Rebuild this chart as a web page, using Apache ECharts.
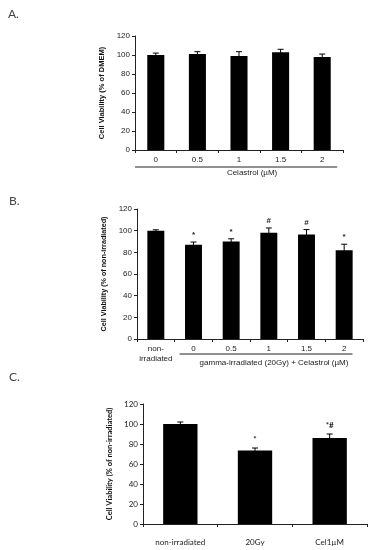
<!DOCTYPE html>
<html><head><meta charset="utf-8">
<script src="https://cdn.jsdelivr.net/npm/echarts@6/dist/echarts.min.js"></script>
<style>html,body{margin:0;padding:0;background:#fff}#c{width:380px;height:550px}</style>
</head><body><div id="c"></div>
<script>
// Panel A
const catsA = ['0', '0.5', '1', '1.5', '2'];
const valsA = [100, 101, 99, 103, 98];
const errA = [2, 2.5, 4.5, 3, 3];
const annA = ['', '', '', '', ''];
// Panel B
const catsB = ['non-\nirradiated', '0', '0.5', '1', '1.5', '2'];
const valsB = [100, 87, 90, 98, 96.5, 82];
const errB = [0.8, 2.5, 2.5, 4.5, 4.5, 5.5];
const annB = ['', '*', '*', '#', '#', '*'];
// Panel C
const catsC = ['non-irradiated', '20Gy', 'Cel1\u00b5M'];
const valsC = [100, 73.5, 86];
const errC = [2, 2.5, 4];
const annC = ['', '*', '*#'];
// Axis
const yTicks = [0, 20, 40, 60, 80, 100, 120];

const ARIAL = '"Liberation Sans", Arial, sans-serif';
const CAL = 'Lato, "Liberation Sans", sans-serif';

const chart = echarts.init(document.getElementById('c'), null, {renderer: 'canvas'});

function yAxis(gi, name, gap, font, nsize) {
  return {
    gridIndex: gi, type: 'value', min: yTicks[0], max: yTicks[yTicks.length - 1], interval: 20,
    name: name, nameLocation: 'middle', nameRotate: 90, nameGap: gap,
    nameTextStyle: {fontFamily: font, fontWeight: 'bold', fontSize: nsize, color: '#111'},
    axisLine: {show: true, lineStyle: {color: '#222', width: 1}},
    axisTick: {show: true, length: 3, lineStyle: {color: '#222'}},
    axisLabel: {fontFamily: font, fontSize: 8, color: '#222', margin: 5},
    splitLine: {show: false}
  };
}
function xAxis(gi, cats, font, margin) {
  return {
    gridIndex: gi, type: 'category', data: cats,
    axisLine: {show: true, lineStyle: {color: '#222', width: 1}},
    axisTick: {show: true, length: 3, alignWithLabel: false, lineStyle: {color: '#222'}},
    axisLabel: {fontFamily: font, fontSize: 8, color: '#222', margin: margin, lineHeight: 10, interval: 0},
    splitLine: {show: false}
  };
}
function errSeries(gi, vals, errs, anns, font, gap) {
  return {
    type: 'custom', xAxisIndex: gi, yAxisIndex: gi, z: 5,
    data: vals.map((v, i) => [i, v, errs[i]]),
    encode: {x: 0, y: 1},
    renderItem: function (params, api) {
      const i = params.dataIndex;
      const x = api.value(0), v = api.value(1), e = api.value(2);
      const top = api.coord([x, v + e]);
      const bot = api.coord([x, v - e]);
      const cap = 3;
      const children = [
        {type: 'line', shape: {x1: top[0], y1: top[1], x2: bot[0], y2: bot[1]}, style: {stroke: '#000', lineWidth: 1}},
        {type: 'line', shape: {x1: top[0] - cap, y1: top[1], x2: top[0] + cap, y2: top[1]}, style: {stroke: '#000', lineWidth: 1}}
      ];
      if (anns[i]) {
        children.push({type: 'text', style: {text: anns[i], x: top[0], y: top[1] - gap, align: 'center', verticalAlign: 'bottom', fontSize: 8, fontWeight: 'bold', fontFamily: font, fill: '#222'}});
      }
      return {type: 'group', children: children};
    }
  };
}
function barSeries(gi, vals, width) {
  return {type: 'bar', xAxisIndex: gi, yAxisIndex: gi, data: vals, barWidth: width,
    itemStyle: {color: '#000'}, silent: true};
}

chart.setOption({
  animation: false,
  grid: [
    {left: 135, top: 36, width: 208, height: 114},
    {left: 137, top: 209, width: 226, height: 130},
    {left: 143, top: 404, width: 224, height: 120}
  ],
  xAxis: [xAxis(0, catsA, ARIAL, 5), xAxis(1, catsB, ARIAL, 5), xAxis(2, catsC, CAL, 13)],
  yAxis: [yAxis(0, 'Cell Viability (% of DMEM)', 24, ARIAL, 7.5), yAxis(1, 'Cell Viability (% of non-irradiated)', 17, ARIAL, 7.2), yAxis(2, 'Cell Viability (% of non-irradiated)', 24, CAL, 7.5)],
  series: [
    barSeries(0, valsA, '41%'), errSeries(0, valsA, errA, annA, ARIAL, 3),
    barSeries(1, valsB, '45%'), errSeries(1, valsB, errB, annB, ARIAL, 3),
    barSeries(2, valsC, '46%'), errSeries(2, valsC, errC, annC, CAL, 5)
  ]
});

// Decorations: panel letters, group brackets and labels
const ax0a = chart.convertToPixel({xAxisIndex: 0}, catsA[0]);
const ax4a = chart.convertToPixel({xAxisIndex: 0}, catsA[4]);
const bandA = ax4a - chart.convertToPixel({xAxisIndex: 0}, catsA[3]);
const yA = chart.convertToPixel({yAxisIndex: 0}, 0);
const b1 = chart.convertToPixel({xAxisIndex: 1}, catsB[1]);
const b5 = chart.convertToPixel({xAxisIndex: 1}, catsB[5]);
const bandB = b5 - chart.convertToPixel({xAxisIndex: 1}, catsB[4]);
const yB = chart.convertToPixel({yAxisIndex: 1}, 0);
const xA0 = ax0a - bandA / 2;
const xA1 = ax4a + bandA * 0.36;
const xB0 = b1 - bandB * 0.37;
const xB1 = b5 + bandB * 0.22;

chart.setOption({
  graphic: [
    {type: 'text', left: 8, top: 8, style: {text: 'A.', fontSize: 12, fontFamily: CAL, fill: '#444'}},
    {type: 'text', left: 9, top: 195, style: {text: 'B.', fontSize: 12, fontFamily: CAL, fill: '#444'}},
    {type: 'text', left: 9, top: 371, style: {text: 'C.', fontSize: 12, fontFamily: CAL, fill: '#444'}},
    {type: 'line', shape: {x1: xA0, y1: yA + 17, x2: xA1, y2: yA + 17}, style: {stroke: '#222', lineWidth: 1}},
    {type: 'text', x: (xA0 + xA1) / 2 + 16, y: yA + 23, style: {text: 'Celastrol (\u00b5M)', fontSize: 8, fontFamily: ARIAL, fill: '#222', align: 'center', verticalAlign: 'middle'}},
    {type: 'line', shape: {x1: xB0, y1: yB + 15, x2: xB1, y2: yB + 15}, style: {stroke: '#222', lineWidth: 1}},
    {type: 'text', x: (xB0 + xB1) / 2 + 8, y: yB + 24, style: {text: 'gamma-irradiated (20Gy) + Celastrol (\u00b5M)', fontSize: 8, fontFamily: ARIAL, fill: '#222', align: 'center', verticalAlign: 'middle'}}
  ]
});
</script></body></html>
